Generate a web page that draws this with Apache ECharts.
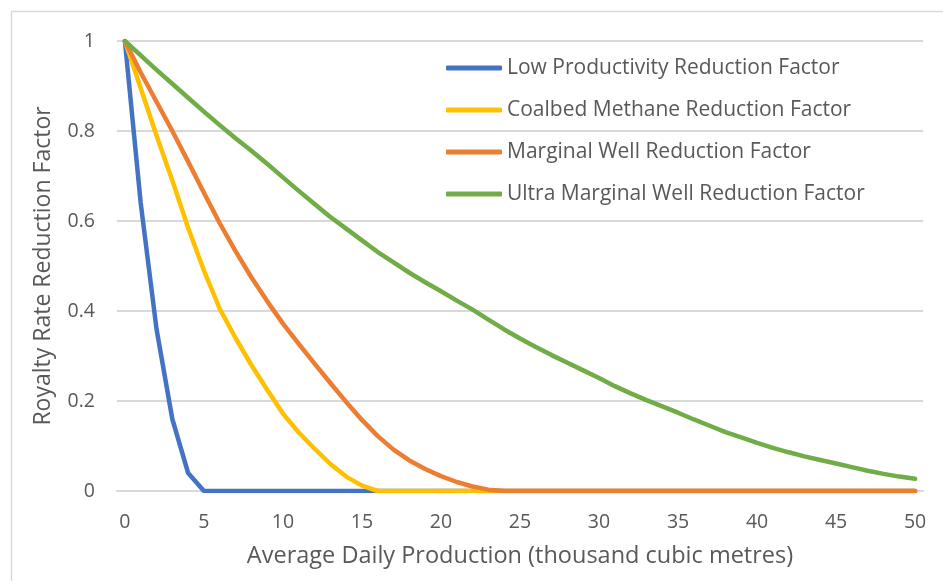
<!DOCTYPE html>
<html>
<head>
<meta charset="utf-8">
<script src="https://cdn.jsdelivr.net/npm/echarts@6/dist/echarts.min.js"></script>
<style>
  html, body { margin: 0; padding: 0; background: #ffffff; }
  #chart { width: 943px; height: 581px; }
</style>
</head>
<body>
<div id="chart"></div>
<script>
// Categories: average daily production (thousand cubic metres)
const categories = ['0','1','2','3','4','5','6','7','8','9','10','11','12','13','14','15','16','17','18','19','20',
  '21','22','23','24','25','26','27','28','29','30','31','32','33','34','35','36','37','38','39','40',
  '41','42','43','44','45','46','47','48','49','50'];

const seriesNames = [
  'Low Productivity Reduction Factor',
  'Coalbed Methane Reduction Factor',
  'Marginal Well Reduction Factor',
  'Ultra Marginal Well Reduction Factor'
];

const lowProductivity = [1, 0.64, 0.36, 0.16, 0.04, 0, 0, 0, 0, 0, 0,
  0, 0, 0, 0, 0, 0, 0, 0, 0, 0,
  0, 0, 0, 0, 0, 0, 0, 0, 0, 0,
  0, 0, 0, 0, 0, 0, 0, 0, 0, 0,
  0, 0, 0, 0, 0, 0, 0, 0, 0, 0];

const coalbedMethane = [1, 0.895, 0.79, 0.69, 0.585, 0.49, 0.405, 0.34, 0.28, 0.225, 0.172,
  0.13, 0.094, 0.06, 0.032, 0.012, 0, 0, 0, 0, 0,
  0, 0, 0, 0, 0, 0, 0, 0, 0, 0,
  0, 0, 0, 0, 0, 0, 0, 0, 0, 0,
  0, 0, 0, 0, 0, 0, 0, 0, 0, 0];

const marginalWell = [1, 0.93, 0.865, 0.8, 0.732, 0.663, 0.595, 0.533, 0.475, 0.422, 0.372,
  0.327, 0.283, 0.24, 0.198, 0.158, 0.122, 0.092, 0.068, 0.049, 0.033,
  0.02, 0.01, 0.003, 0, 0, 0, 0, 0, 0, 0,
  0, 0, 0, 0, 0, 0, 0, 0, 0, 0,
  0, 0, 0, 0, 0, 0, 0, 0, 0, 0];

const ultraMarginalWell = [1, 0.968, 0.936, 0.905, 0.874, 0.843, 0.813, 0.784, 0.756, 0.727, 0.697,
  0.667, 0.638, 0.609, 0.583, 0.557, 0.531, 0.508, 0.485, 0.464, 0.444,
  0.423, 0.403, 0.381, 0.359, 0.339, 0.32, 0.302, 0.285, 0.268, 0.251,
  0.233, 0.217, 0.202, 0.188, 0.174, 0.159, 0.145, 0.131, 0.119, 0.107,
  0.096, 0.086, 0.077, 0.069, 0.061, 0.053, 0.045, 0.038, 0.032, 0.027];

const seriesColors = ['#4472C4', '#FFC000', '#ED7D31', '#70AD47'];
const seriesValues = [lowProductivity, coalbedMethane, marginalWell, ultraMarginalWell];

const FONT = 'Open Sans';
const TEXT = '#595959';
const GRID = '#d9d9d9';

const chart = echarts.init(document.getElementById('chart'), null, { renderer: 'canvas' });

chart.setOption({
  animation: false,
  backgroundColor: '#ffffff',
  textStyle: { fontFamily: FONT },
  graphic: [{
    type: 'rect',
    shape: { x: 11.5, y: 11.5, width: 1000, height: 1000 },
    style: { fill: 'none', stroke: GRID, lineWidth: 1.5 },
    silent: true,
    z: -10
  }],
  grid: { left: 117, right: 20, top: 41, bottom: 90, containLabel: false },
  legend: {
    orient: 'vertical',
    left: 441,
    top: 50,
    icon: 'roundRect',
    itemWidth: 56,
    itemHeight: 5,
    itemGap: 16,
    selectedMode: false,
    textStyle: { fontFamily: FONT, fontSize: 21, color: TEXT, lineHeight: 26 },
    data: seriesNames
  },
  xAxis: {
    type: 'category',
    data: categories,
    boundaryGap: true,
    name: 'Average Daily Production (thousand cubic metres)',
    nameLocation: 'middle',
    nameGap: 53,
    nameTextStyle: { fontFamily: FONT, fontSize: 23.5, color: TEXT },
    axisLine: { show: true, lineStyle: { color: GRID, width: 2 } },
    axisTick: { show: false },
    axisLabel: { interval: 4, margin: 21, fontFamily: FONT, fontSize: 19.5, color: TEXT },
    splitLine: { show: false }
  },
  yAxis: {
    type: 'value',
    min: 0,
    max: 1,
    interval: 0.2,
    name: 'Royalty Rate Reduction Factor',
    nameLocation: 'middle',
    nameGap: 62,
    nameTextStyle: { fontFamily: FONT, fontSize: 23, color: TEXT },
    axisLine: { show: false },
    axisTick: { show: false },
    axisLabel: { margin: 22, fontFamily: FONT, fontSize: 19.5, color: TEXT },
    splitLine: { show: true, lineStyle: { color: GRID, width: 2 } }
  },
  series: seriesNames.map((name, i) => ({
    name: name,
    type: 'line',
    data: seriesValues[i],
    symbol: 'none',
    smooth: false,
    color: seriesColors[i],
    lineStyle: { width: 4.5, color: seriesColors[i], cap: 'round', join: 'round' },
    itemStyle: { color: seriesColors[i] },
    z: 2 + i
  }))
});
</script>
</body>
</html>
